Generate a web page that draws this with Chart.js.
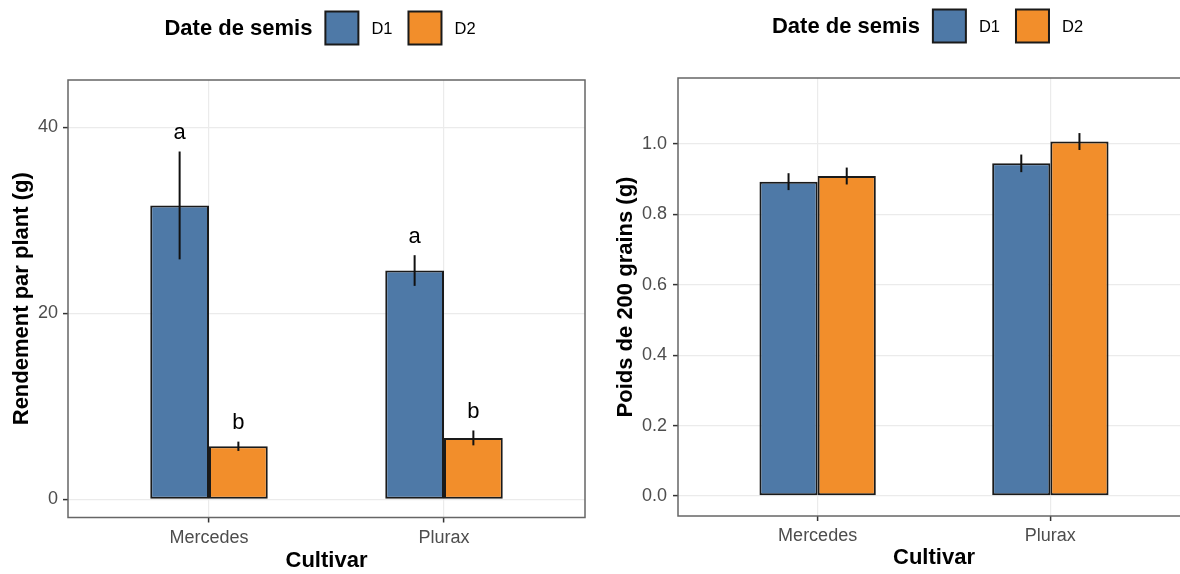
<!DOCTYPE html>
<html>
<head>
<meta charset="utf-8">
<script src="https://cdn.jsdelivr.net/npm/chart.js@4.4.1/dist/chart.umd.min.js"></script>
<style>
  html, body { margin: 0; padding: 0; background: #fff; overflow: hidden; width: 1180px; height: 574px; }
  .panel { position: absolute; top: 0; width: 600px; height: 574px; }
  #p1 { left: 0; }
  #p2 { left: 600px; }
</style>
</head>
<body>
<div class="panel" id="p1"><canvas id="rendement" width="600" height="574"></canvas></div>
<div class="panel" id="p2"><canvas id="poids" width="600" height="574"></canvas></div>
<script>
// Données
const cultivars = ['Mercedes', 'Plurax'];
const dates = ['D1', 'D2'];
const couleurs = ['#4e79a7', '#f28e2b'];
const legendTitle = 'Date de semis';

// Rendement par plant (g)
const rendementD1 = [31.6, 24.6];
const rendementD2 = [5.7, 6.6];
const rendementErrD1 = [5.8, 1.65];
const rendementErrD2 = [0.5, 0.8];
const lettresD1 = ['a', 'a'];
const lettresD2 = ['b', 'b'];
const rendementTicks = [0, 20, 40];

// Poids de 200 grains (g)
const poidsD1 = [0.893, 0.945];
const poidsD2 = [0.909, 1.007];
const poidsErrD1 = [0.024, 0.025];
const poidsErrD2 = [0.024, 0.024];
const poidsTicks = [0, 0.2, 0.4, 0.6, 0.8, 1.0];

const FONT = '"Liberation Sans", Arial, sans-serif';
Chart.defaults.font.family = FONT;

// cadre du panneau (theme_bw)
const borderPlugin = {
  id: 'panelBorder',
  afterDatasetsDraw(chart) {
    const a = chart.chartArea, ctx = chart.ctx;
    ctx.save();
    ctx.strokeStyle = '#666';
    ctx.lineWidth = 1.5;
    ctx.strokeRect(a.left, a.top, a.right - a.left, a.bottom - a.top);
    ctx.restore();
  }
};

// barres d'erreur + lettres
const errorPlugin = {
  id: 'errorBars',
  afterDatasetsDraw(chart) {
    const ctx = chart.ctx, y = chart.scales.y;
    ctx.save();
    chart.data.datasets.forEach((ds, di) => {
      const meta = chart.getDatasetMeta(di);
      meta.data.forEach((bar, i) => {
        const v = ds.data[i].y, e = ds.err[i];
        const top = y.getPixelForValue(v + e);
        const bot = y.getPixelForValue(v - e);
        ctx.strokeStyle = '#111';
        ctx.lineWidth = 2;
        ctx.beginPath();
        ctx.moveTo(bar.x, top);
        ctx.lineTo(bar.x, bot);
        ctx.stroke();
        if (ds.lettres) {
          ctx.fillStyle = '#000';
          ctx.font = '22px ' + FONT;
          ctx.textAlign = 'center';
          ctx.textBaseline = 'alphabetic';
          ctx.fillText(ds.lettres[i], bar.x, top - 12.5);
        }
      });
    });
    ctx.restore();
  }
};

// légende style ggplot en haut
const legendPlugin = {
  id: 'ggLegend',
  afterDraw(chart) {
    const ctx = chart.ctx, a = chart.chartArea;
    const cy = a.top - 52;
    const box = 33, gap = 13, itemGap = 16;
    ctx.save();
    ctx.font = 'bold 22px ' + FONT;
    const titleW = ctx.measureText(legendTitle).width;
    ctx.font = '16.5px ' + FONT;
    const items = chart.data.datasets.map(ds => ({ label: ds.label, color: ds.backgroundColor, w: ctx.measureText(ds.label).width }));
    let total = titleW;
    items.forEach(it => { total += gap + box + gap + it.w; });
    total += itemGap * (items.length - 1);
    let x = (a.left + a.right) / 2 - total / 2;
    ctx.textBaseline = 'middle';
    ctx.textAlign = 'left';
    ctx.fillStyle = '#000';
    ctx.font = 'bold 22px ' + FONT;
    ctx.fillText(legendTitle, x, cy + 1);
    x += titleW + gap;
    ctx.font = '16.5px ' + FONT;
    items.forEach((it, k) => {
      ctx.fillStyle = it.color;
      ctx.fillRect(x, cy - box / 2, box, box);
      ctx.strokeStyle = '#1a1a1a';
      ctx.lineWidth = 2;
      ctx.strokeRect(x, cy - box / 2, box, box);
      x += box + gap;
      ctx.fillStyle = '#000';
      ctx.fillText(it.label, x, cy + 1);
      x += it.w + itemGap;
    });
    ctx.restore();
  }
};

function makeChart(id, o) {
  const datasets = o.series.map((s, k) => ({
    label: dates[k],
    data: cultivars.map((c, i) => ({ x: i + 1, y: s.values[i] })),
    err: s.err,
    lettres: s.lettres,
    backgroundColor: couleurs[k],
    borderColor: '#1a1a1a',
    borderWidth: 2,
    borderSkipped: false,
    categoryPercentage: 0.5,
    barPercentage: 1.0
  }));
  return new Chart(document.getElementById(id), {
    type: 'bar',
    data: { datasets },
    options: {
      responsive: false,
      animation: false,
      layout: { padding: { top: o.top, right: o.right, left: 0, bottom: 0 } },
      plugins: { legend: { display: false }, tooltip: { enabled: false } },
      scales: {
        x: {
          type: 'linear',
          min: 0.4, max: 2.6,
          offset: false,
          afterBuildTicks: s => { s.ticks = cultivars.map((c, i) => ({ value: i + 1 })); },
          afterFit: s => { s.height = o.xHeight; },
          border: { display: false },
          grid: { offset: false, color: '#ebebeb', lineWidth: 1.2, tickColor: '#333', tickLength: 5, tickWidth: 1.5 },
          ticks: { color: '#4d4d4d', font: { size: 18 }, padding: o.xPad, maxRotation: 0, callback: v => cultivars[v - 1] },
          title: { display: true, text: 'Cultivar', color: '#000', font: { size: 22, weight: 'bold' }, padding: { top: 0, bottom: o.xTitlePad } }
        },
        y: {
          min: o.yMin, max: o.yMax,
          afterBuildTicks: s => { s.ticks = o.ticks.map(v => ({ value: v })); },
          afterFit: s => { s.width = o.yWidth; },
          border: { display: false },
          grid: { color: '#ebebeb', lineWidth: 1.2, tickColor: '#333', tickLength: 5, tickWidth: 1.5 },
          ticks: { color: '#4d4d4d', font: { size: 18 }, padding: o.yPad, callback: o.fmt },
          title: { display: true, text: o.yTitle, color: '#000', font: { size: 22, weight: 'bold' }, padding: { top: o.yTitlePad, bottom: 0 } }
        }
      }
    },
    plugins: [borderPlugin, errorPlugin, legendPlugin]
  });
}

makeChart('rendement', {
  series: [
    { values: rendementD1, err: rendementErrD1, lettres: lettresD1 },
    { values: rendementD2, err: rendementErrD2, lettres: lettresD2 }
  ],
  ticks: rendementTicks,
  fmt: v => String(v),
  yMin: -1.96, yMax: 45.09,
  yTitle: 'Rendement par plant (g)',
  top: 80, right: 15, xHeight: 56.5, yWidth: 68,
  xPad: 5, yPad: 5, xTitlePad: 0, yTitlePad: 9
});

makeChart('poids', {
  series: [
    { values: poidsD1, err: poidsErrD1 },
    { values: poidsD2, err: poidsErrD2 }
  ],
  ticks: poidsTicks,
  fmt: v => v.toFixed(1),
  yMin: -0.057, yMax: 1.1875,
  yTitle: 'Poids de 200 grains (g)',
  top: 78, right: 10, xHeight: 58, yWidth: 78,
  xPad: 4, yPad: 6, xTitlePad: 3, yTitlePad: 13
});
</script>
</body>
</html>
